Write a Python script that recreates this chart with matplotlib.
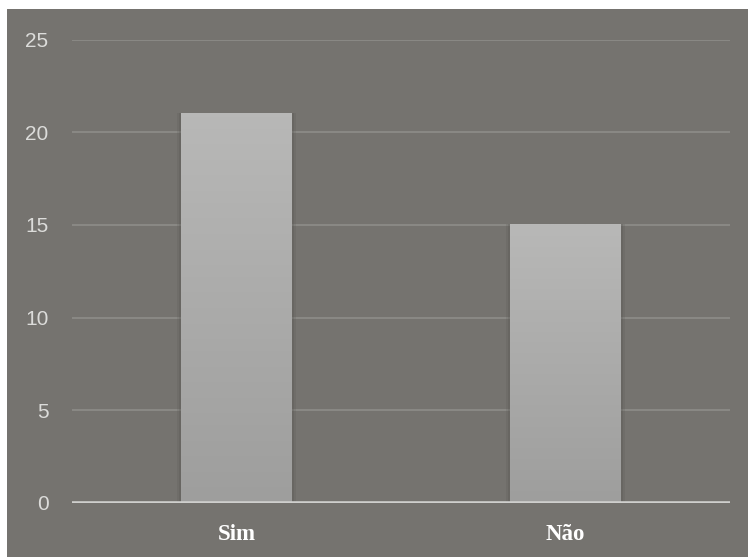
import numpy as np
import matplotlib
matplotlib.use("Agg")
import matplotlib.pyplot as plt
from matplotlib.colors import LinearSegmentedColormap

categories = ["Sim", "Não"]
counts = [21, 15]
yticks = [0, 5, 10, 15, 20, 25]

BG = "#75736f"
GRID = "#8c8b87"
AXIS = "#cfcfcd"
TICK = "#dcdcda"

fig = plt.figure(figsize=(7.48, 5.57), dpi=100, facecolor="white")
# grey panel behind the chart
bg = fig.add_axes([7 / 748, 0, 741 / 748, 1 - 9 / 557], zorder=-1)
bg.set_axis_off()
bg.add_patch(plt.Rectangle((0, 0), 1, 1, color=BG, transform=bg.transAxes))

ax = fig.add_axes([72 / 748, 1 - 503 / 557, 658 / 748, (503 - 39.5) / 557])
ax.set_facecolor("none")
for s in ax.spines.values():
    s.set_visible(False)

x = np.arange(len(categories))
bars = ax.bar(x, counts, width=0.335, color="none", zorder=3)

# vertical gradient fill + soft side shadow for each bar
grad = LinearSegmentedColormap.from_list("bar", ["#9e9e9d", "#b8b8b7"])
for b in bars:
    x0, w, h = b.get_x(), b.get_width(), b.get_height()
    for off, a in [(0.012, 0.18), (0.006, 0.25)]:
        ax.add_patch(plt.Rectangle((x0 - off, 0), w + 2 * off, h + 0.05,
                                   color="#55534f", alpha=a, lw=0, zorder=2))
    ax.imshow(np.linspace(0, 1, 100).reshape(-1, 1), cmap=grad, aspect="auto",
              extent=[x0, x0 + w, 0, h], origin="lower", zorder=3)
ax.set_xlim(-0.5, len(categories) - 0.5)
ax.set_ylim(0, 25)

for v in yticks[1:]:
    ax.axhline(v, color=GRID, lw=1.3, zorder=1)
ax.axhline(0, color=AXIS, lw=2.6, zorder=4)

ax.set_yticks(yticks)
ax.set_yticklabels([str(v) for v in yticks], color=TICK,
                   fontsize=15, family="Liberation Sans")
ax.tick_params(axis="y", length=0, pad=17)
ax.set_xticks(x)
ax.set_xticklabels(categories, color="white", fontsize=16.5,
                   family="Liberation Serif", fontweight="bold")
ax.tick_params(axis="x", length=0, pad=15)

fig.savefig("out.png", dpi=100, facecolor="white")
